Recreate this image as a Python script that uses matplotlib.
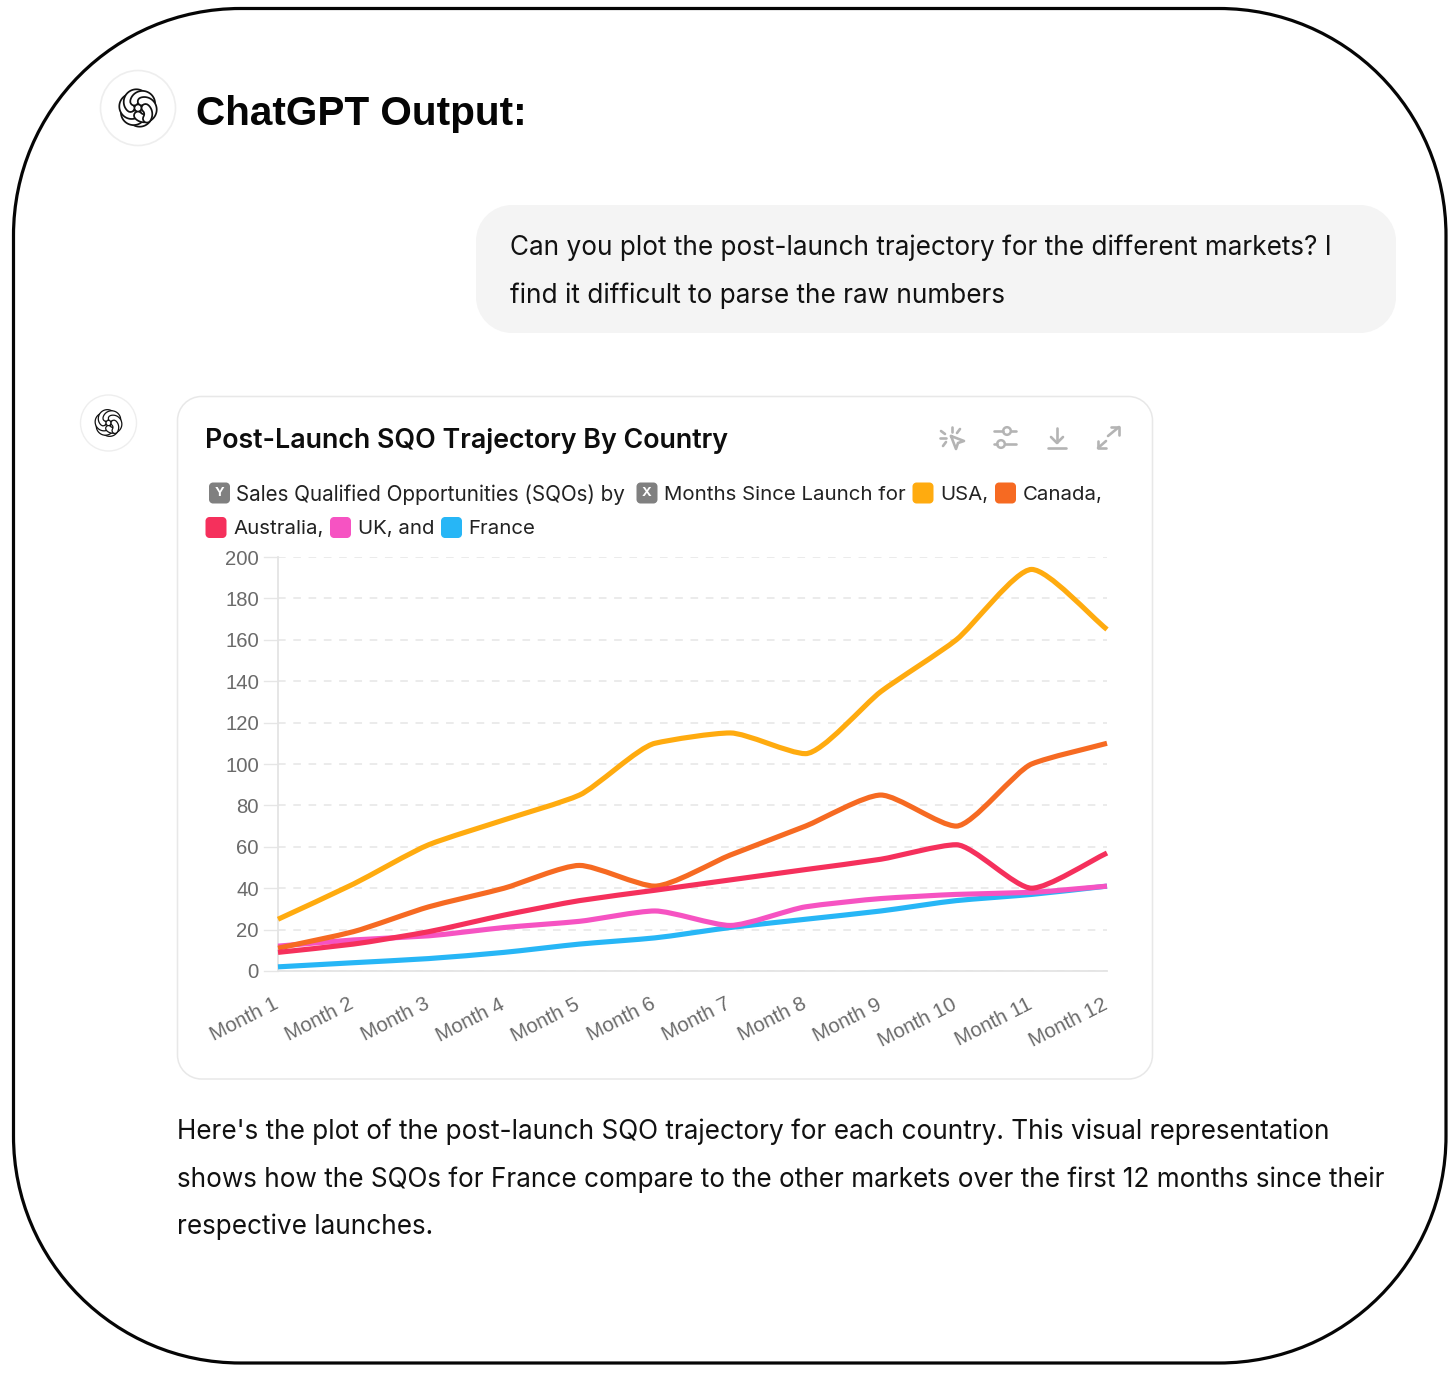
import numpy as np
import matplotlib
matplotlib.use("Agg")
import matplotlib.pyplot as plt
from matplotlib.patches import PathPatch, Circle
from matplotlib.path import Path
from matplotlib.transforms import ScaledTranslation

W, H = 1456, 1373
months = [f"Month {i}" for i in range(1, 13)]
usa = [25, 42, 61, 73, 85, 110, 115, 105, 135, 160, 194, 165]
canada = [11, 19, 31, 40, 51, 41, 56, 70, 85, 70, 100, 110]
australia = [9, 13, 19, 27, 34, 39, 44, 49, 54, 61, 40, 57]
uk = [12, 15, 17, 21, 24, 29, 22, 31, 35, 37, 38, 41]
france = [2, 4, 6, 9, 13, 16, 21, 25, 29, 34, 37, 41]
yticks = list(range(0, 201, 20))
series = [("USA", usa, "#FFAB0F", 3), ("France", france, "#27B6F6", 3.1), ("UK", uk, "#F653C2", 3.2),
          ("Canada", canada, "#F66A22", 3.3), ("Australia", australia, "#F5305C", 3.4)]

fig = plt.figure(figsize=(W / 100, H / 100), dpi=100, facecolor="white")
bg = fig.add_axes([0, 0, 1, 1])
bg.set_xlim(0, W); bg.set_ylim(H, 0); bg.axis("off")

def rbox(x0, y0, x1, y1, r, **kw):
    k = r * (1 - 0.5523)
    v = [(x0 + r, y0), (x1 - r, y0), (x1 - k, y0), (x1, y0 + k), (x1, y0 + r),
         (x1, y1 - r), (x1, y1 - k), (x1 - k, y1), (x1 - r, y1),
         (x0 + r, y1), (x0 + k, y1), (x0, y1 - k), (x0, y1 - r),
         (x0, y0 + r), (x0, y0 + k), (x0 + k, y0), (x0 + r, y0), (x0 + r, y0)]
    c = [Path.MOVETO, Path.LINETO, Path.CURVE4, Path.CURVE4, Path.CURVE4,
         Path.LINETO, Path.CURVE4, Path.CURVE4, Path.CURVE4,
         Path.LINETO, Path.CURVE4, Path.CURVE4, Path.CURVE4,
         Path.LINETO, Path.CURVE4, Path.CURVE4, Path.CURVE4, Path.CLOSEPOLY]
    p = PathPatch(Path(v, c), **kw)
    bg.add_patch(p)
    return p

def logo(cx, cy, s):
    # six interlocking bands: each a hooked stroke, dark outline under a white core
    th = np.linspace(0, 1, 40)
    width = 0.36 * s * 0.72
    line = 0.10 * s * 0.72
    def band(k, part=1.0, z=5.0):
        t = th[th <= part]
        ang = np.deg2rad(60 * k + 150 * t)
        r = s * (0.43 + 0.42 * np.sin(np.pi * t))
        xs, ys = cx + r * np.cos(ang), cy + r * np.sin(ang)
        bg.plot(xs, ys, color="#111111", lw=width + 2 * line, solid_capstyle="round", zorder=z)
        bg.plot(xs, ys, color="white", lw=width, solid_capstyle="round", zorder=z + 0.001)
    for k in range(6):
        band(k, z=5 + 0.01 * k)
    band(0, part=0.35, z=5.1)

INTER = "Inter"
ARIAL = "Liberation Sans"

# outer frame
rbox(13.5, 8.5, 1446, 1363, 227, fc="white", ec="#050505", lw=2.3)

# heading
bg.add_patch(Circle((138, 108), 37.5, fc="white", ec="#EEEEEE", lw=1.2))
logo(138, 108, 17.5)
bg.text(196, 114, "ChatGPT Output:", fontsize=29.2, fontweight="bold", family=ARIAL,
        va="center", ha="left", color="#050505")

# user bubble
rbox(476, 205, 1396, 333, 36, fc="#F4F4F4", ec="none")
bg.text(510, 247.5, "Can you plot the post-launch trajectory for the different markets? I",
        fontsize=18.83, family=INTER, va="center", color="#111111")
bg.text(510, 295.5, "find it difficult to parse the raw numbers",
        fontsize=18.83, family=INTER, va="center", color="#111111")

# assistant avatar
bg.add_patch(Circle((108.5, 423), 28, fc="white", ec="#EEEEEE", lw=1.0))
logo(108.5, 423, 12.5)

# chart card
rbox(177.5, 396.5, 1152.5, 1079, 24, fc="white", ec="#E8E8E8", lw=1.1)
bg.text(205, 440.5, "Post-Launch SQO Trajectory By Country", fontsize=19.3, fontweight="semibold",
        family=INTER, va="center", color="#0D0D0D")

# subtitle legend
def chip(x, y, color, letter=None, s=21):
    rbox(x, y - s / 2, x + s, y + s / 2, 4, fc=color, ec="none")
    if letter:
        bg.text(x + s / 2, y + 0.5, letter, fontsize=9.5, fontweight="bold", family=INTER,
                color="white", ha="center", va="center")

def sub(x, y, s, fs=14.7):
    bg.text(x, y + 1.8, s, fontsize=fs, family=INTER, va="center", color="#222222")

y1, y2 = 493, 527.5
chip(209, y1, "#808080", "Y")
sub(236, y1, "Sales Qualified Opportunities (SQOs) by", 14.85)
chip(636.5, y1, "#808080", "X")
sub(664, y1, "Months Since Launch for")
chip(912.5, y1, "#FFAB0F")
sub(940, y1, "USA,")
chip(995, y1, "#F66A22")
sub(1022.5, y1, "Canada,")
chip(205.5, y2, "#F5305C")
sub(233, y2, "Australia,")
chip(330, y2, "#F653C2")
sub(358, y2, "UK, and")
chip(441, y2, "#27B6F6")
sub(468.5, y2, "France")

# toolbar icons
ic = "#B4B4B4"
def seg(*pts, lw=1.9):
    xs, ys = zip(*pts)
    bg.plot(xs, ys, color=ic, lw=lw, solid_capstyle="round", solid_joinstyle="round")
for p in [((952, 427), (952, 432)), ((941, 431), (945, 434)), ((960, 429), (957, 433)),
          ((940, 438), (946, 438)), ((943, 446), (946, 442))]:
    seg(*p)
seg((951, 436), (964, 441), (958, 443), (956, 449), (951, 436))
seg((994, 431), (1003, 431)); seg((1011, 431), (1016, 431))
seg((994, 444), (997, 444)); seg((1005, 444), (1016, 444))
bg.add_patch(Circle((1007, 431), 3.8, fc="white", ec=ic, lw=1.8))
bg.add_patch(Circle((1001, 444), 3.8, fc="white", ec=ic, lw=1.8))
seg((1057, 428), (1057, 442)); seg((1051, 437), (1057, 443), (1063, 437))
seg((1048, 448), (1066, 448))
seg((1108, 436), (1119, 427)); seg((1111, 427), (1119, 427), (1119, 435))
seg((1098, 448), (1106, 441)); seg((1098, 441), (1098, 448), (1106, 448))

# closing text
for yy, s in [(1131.5, "Here's the plot of the post-launch SQO trajectory for each country. This visual representation"),
              (1179.5, "shows how the SQOs for France compare to the other markets over the first 12 months since their"),
              (1226.5, "respective launches.")]:
    bg.text(177, yy, s, fontsize=18.83, family=INTER, va="center", color="#111111")

# plot
ax = fig.add_axes([278 / W, 1 - 971 / H, (1107 - 278) / W, (971 - 557) / H])
ax.patch.set_alpha(0)
ax.set_xlim(0, 11); ax.set_ylim(0, 200)
x = np.arange(12)

def monotone_path(xv, yv, frac=0.22):
    xv = np.asarray(xv, float); yv = np.asarray(yv, float)
    d = np.diff(yv) / np.diff(xv)
    m = np.zeros_like(yv)
    for i in range(1, len(yv) - 1):
        m[i] = 0 if d[i - 1] * d[i] <= 0 else 2 * d[i - 1] * d[i] / (d[i - 1] + d[i])
    m[0], m[-1] = d[0], d[-1]
    verts = [(xv[0], yv[0])]; codes = [Path.MOVETO]
    for i in range(len(xv) - 1):
        h = (xv[i + 1] - xv[i]) * frac
        verts += [(xv[i] + h, yv[i] + m[i] * h), (xv[i + 1] - h, yv[i + 1] - m[i + 1] * h),
                  (xv[i + 1], yv[i + 1])]
        codes += [Path.CURVE4] * 3
    return Path(verts, codes)

for name, vals, col, z in series:
    ax.add_patch(PathPatch(monotone_path(x, vals), fc="none", ec=col, lw=3.7,
                           capstyle="butt", joinstyle="round", clip_on=False, zorder=z))

ax.set_yticks(yticks)
ax.set_yticklabels([str(v) for v in yticks], fontsize=14.6, family=ARIAL, color="#6A6A6A")
ax.set_xticks(x)
ax.set_xticklabels(months, fontsize=14.8, family=ARIAL, color="#6A6A6A", rotation=27,
                   ha="right", rotation_mode="anchor")
ax.tick_params(axis="y", length=0, pad=13.7)
ax.tick_params(axis="x", length=0, pad=17)
shift = ScaledTranslation(-5 / 100, 0, fig.dpi_scale_trans)
for lab in ax.get_xticklabels():
    lab.set_transform(lab.get_transform() + shift)
ax.grid(axis="y", color="#E6E6E6", lw=1.1, dashes=(5, 5))
for yv in yticks:
    ax.plot([-14 / 829 * 11, 0], [yv, yv], color="#E6E6E6", lw=1.0, clip_on=False, zorder=1)
for s in ("top", "right"):
    ax.spines[s].set_visible(False)
for s in ("left", "bottom"):
    ax.spines[s].set_color("#E4E4E4"); ax.spines[s].set_linewidth(1.3)
ax.set_axisbelow(True)

fig.savefig("out.png", dpi=100, facecolor="white")
